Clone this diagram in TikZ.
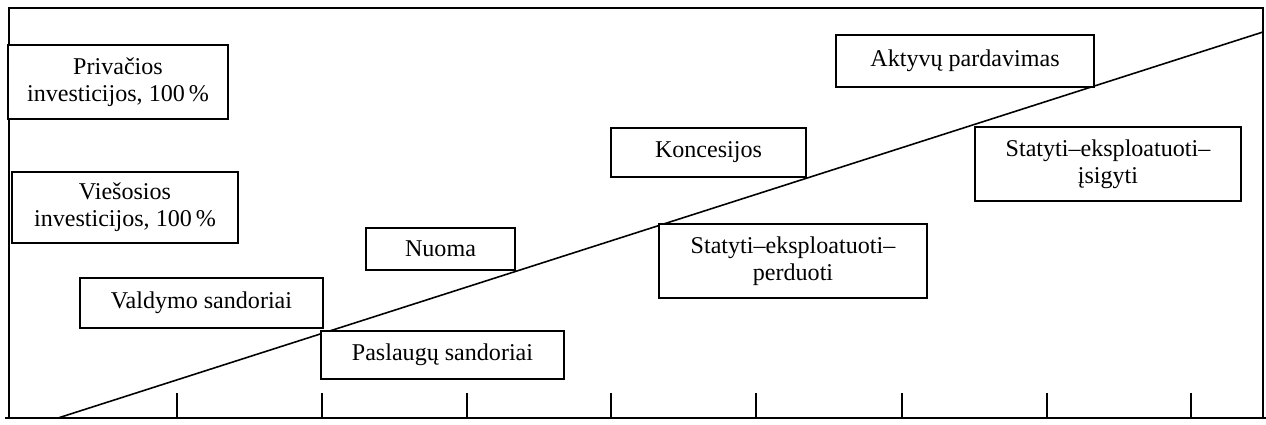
\documentclass[tikz,border=0pt]{standalone}
\usepackage{fontspec}
\setmainfont{Liberation Serif}
\tikzset{
	box/.style={draw, line width=0.9pt, fill=white, align=center, inner sep=0pt,
		font=\fontsize{13.7}{15.4}\selectfont},
	axis/.style={line width=0.9pt}
}
\begin{document}
\begin{tikzpicture}[x=0.02cm, y=-0.02cm]
	\useasboundingbox (0,0) rectangle (1266,425);
	%\draw[help lines, gray!30] (0,0) grid[step=50] (1266,425);
	
	% frame and axis
	\draw[axis] (9,418) -- (9,8) -- (1263,8) -- (1263,418);
	\draw[axis] (5,418) -- (1266,418);
	
	\foreach \x in {177,322,467,611,756,902,1047,1191}
	\draw[axis] (\x,418) -- (\x,393);
	
	% diagonal
	\coordinate (pradzia) at (58,418);
	\coordinate (pabaiga) at (1263,32);
	\draw[axis] (pradzia) -- (pabaiga);
	
	% boxes
	\node[box, minimum width=4.40cm, minimum height=1.48cm] (privacios) at (118,82) {Privačios\\investicijos, 100\,\%};
	\node[box, minimum width=4.52cm, minimum height=1.42cm] (viesosios) at (125,207.5) {Viešosios\\investicijos, 100\,\%};
	\node[box, minimum width=2.98cm, minimum height=0.84cm] (nuoma) at (440.5,249) {Nuoma};
	\node[box, minimum width=4.86cm, minimum height=1.00cm] (valdymo) at (201.5,303) {Valdymo sandoriai};
	\node[box, minimum width=4.86cm, minimum height=0.96cm] (paslaugu) at (442.5,355) {Paslaugų sandoriai};
	\node[box, minimum width=3.90cm, minimum height=0.98cm] (koncesijos) at (708.5,152.5) {Koncesijos};
	\node[box, minimum width=5.16cm, minimum height=1.04cm] (aktyvu) at (965,61) {Aktyvų pardavimas};
	\node[box, minimum width=5.32cm, minimum height=1.48cm] (isigyti) at (1108,164) {Statyti--eksploatuoti--\\įsigyti};
	\node[box, minimum width=5.36cm, minimum height=1.48cm] (perduoti) at (793,261) {Statyti--eksploatuoti--\\perduoti};
	
\end{tikzpicture}
\end{document}
